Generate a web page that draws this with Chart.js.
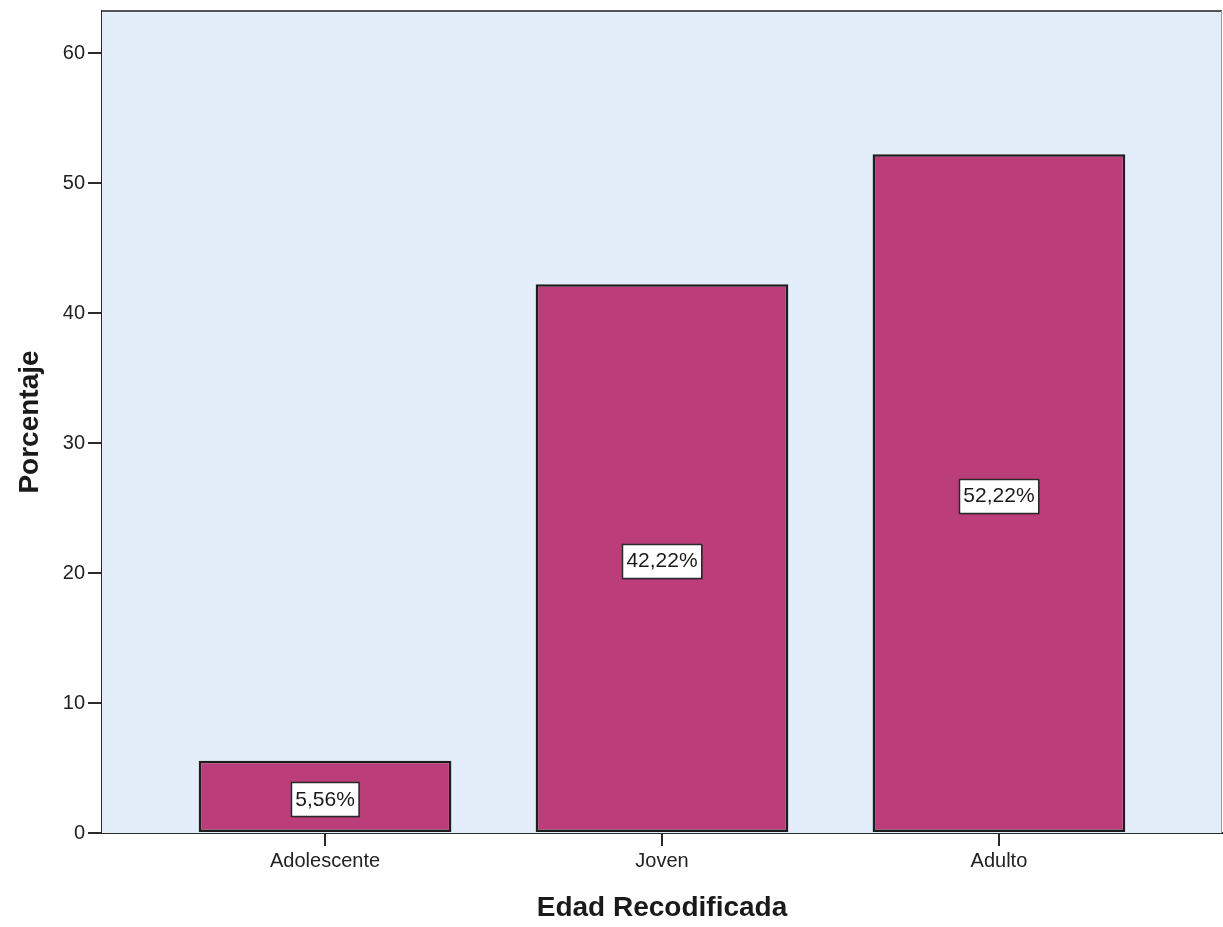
<!DOCTYPE html>
<html>
<head>
<meta charset="utf-8">
<script src="https://cdn.jsdelivr.net/npm/chart.js@4/dist/chart.umd.min.js"></script>
<style>
  html, body { margin: 0; padding: 0; background: #ffffff; }
  canvas { display: block; }
</style>
</head>
<body>
<canvas id="chart" width="1223" height="927"></canvas>
<script>
// Age groups and their share of respondents (%)
const categories = ['Adolescente', 'Joven', 'Adulto'];
const percentages = [5.56, 42.22, 52.22];
const yTicks = [0, 10, 20, 30, 40, 50, 60];

const FONT = '"Liberation Sans", Arial, Helvetica, sans-serif';
const INK = '#222222';

// Light blue plot background and frame lines on top/right
const plotFrame = {
  id: 'plotFrame',
  beforeDatasetsDraw(chart) {
    const { ctx, chartArea: a } = chart;
    ctx.save();
    ctx.fillStyle = '#e3eefa';
    ctx.fillRect(a.left, a.top, a.right - a.left, a.bottom - a.top);
    ctx.restore();
  },
  afterDraw(chart) {
    const { ctx, chartArea: a } = chart;
    ctx.save();
    ctx.strokeStyle = '#555555';
    ctx.lineWidth = 2;
    ctx.beginPath();
    ctx.moveTo(a.left, a.top);
    ctx.lineTo(a.right, a.top);
    ctx.stroke();
    ctx.strokeStyle = '#9a9a9a';
    ctx.lineWidth = 1;
    ctx.beginPath();
    ctx.moveTo(a.right - 0.5, a.top);
    ctx.lineTo(a.right - 0.5, a.bottom);
    ctx.stroke();
    ctx.restore();
  }
};

// Boxed percentage label in the middle of each bar
const boxedLabels = {
  id: 'boxedLabels',
  afterDatasetsDraw(chart) {
    const { ctx } = chart;
    const meta = chart.getDatasetMeta(0);
    const yScale = chart.scales.y;
    ctx.save();
    ctx.font = '21px ' + FONT;
    ctx.textAlign = 'center';
    ctx.textBaseline = 'middle';
    meta.data.forEach((bar, i) => {
      const v = percentages[i];
      const text = v.toFixed(2).replace('.', ',') + '%';
      const cx = bar.x;
      const cy = yScale.getPixelForValue(v / 2) + 2;
      const w = ctx.measureText(text).width + 8;
      const h = 34;
      const x0 = Math.round(cx - w / 2) + 0.5;
      const y0 = Math.round(cy - h / 2) + 0.5;
      // soft shadow
      ctx.fillStyle = 'rgba(60,20,40,0.35)';
      ctx.fillRect(x0 + 1, y0 + 1, w, h);
      ctx.fillStyle = '#ffffff';
      ctx.fillRect(x0, y0, w, h);
      ctx.strokeStyle = '#2a2a2a';
      ctx.lineWidth = 1.5;
      ctx.strokeRect(x0, y0, w, h);
      ctx.fillStyle = '#1a1a1a';
      ctx.fillText(text, cx, cy + 1);
    });
    ctx.restore();
  }
};

new Chart(document.getElementById('chart'), {
  type: 'bar',
  data: {
    datasets: [{
      data: percentages.map((v, i) => ({ x: i, y: v })),
      backgroundColor: '#bb3e7b',
      borderColor: '#1e1e1e',
      borderWidth: 2.5,
      borderSkipped: false,
      categoryPercentage: 0.75,
      barPercentage: 1.0
    }]
  },
  options: {
    responsive: false,
    animation: false,
    devicePixelRatio: 1,
    layout: { padding: { top: 11, right: 1, left: 0, bottom: 0 } },
    plugins: {
      legend: { display: false },
      tooltip: { enabled: false }
    },
    scales: {
      x: {
        type: 'linear',
        offset: false,
        min: -0.662,
        max: 2.662,
        afterBuildTicks(scale) {
          scale.ticks = categories.map((_, i) => ({ value: i }));
        },
        afterFit(scale) {
          scale.height = 94;
          scale.paddingLeft = 0;
          scale.paddingRight = 0;
        },
        ticks: {
          autoSkip: false,
          maxRotation: 0,
          padding: 3,
          color: INK,
          font: { family: FONT, size: 20 },
          callback: (v) => categories[v] ?? ''
        },
        grid: {
          offset: false,
          drawOnChartArea: false,
          drawTicks: true,
          tickLength: 13,
          tickColor: '#2a2a2a',
          lineWidth: 2
        },
        border: { display: true, color: '#2a2a2a', width: 2 },
        title: {
          display: true,
          text: 'Edad Recodificada',
          color: '#1a1a1a',
          font: { family: FONT, size: 28, weight: 'bold' },
          padding: { top: 0, bottom: 2 }
        }
      },
      y: {
        type: 'linear',
        min: 0,
        max: 63.25,
        afterBuildTicks(scale) {
          scale.ticks = yTicks.map(v => ({ value: v }));
        },
        afterFit(scale) {
          scale.width = 102;
          scale.paddingTop = 0;
          scale.paddingBottom = 0;
        },
        ticks: {
          padding: 3,
          color: INK,
          font: { family: FONT, size: 20 }
        },
        grid: {
          drawOnChartArea: false,
          drawTicks: true,
          tickLength: 14,
          tickColor: '#2a2a2a',
          lineWidth: 2
        },
        border: { display: true, color: '#2a2a2a', width: 2 },
        title: {
          display: true,
          text: 'Porcentaje',
          color: '#1a1a1a',
          font: { family: FONT, size: 28, weight: 'bold' },
          padding: { top: 13, bottom: 0 }
        }
      }
    }
  },
  plugins: [plotFrame, boxedLabels]
});
</script>
</body>
</html>
